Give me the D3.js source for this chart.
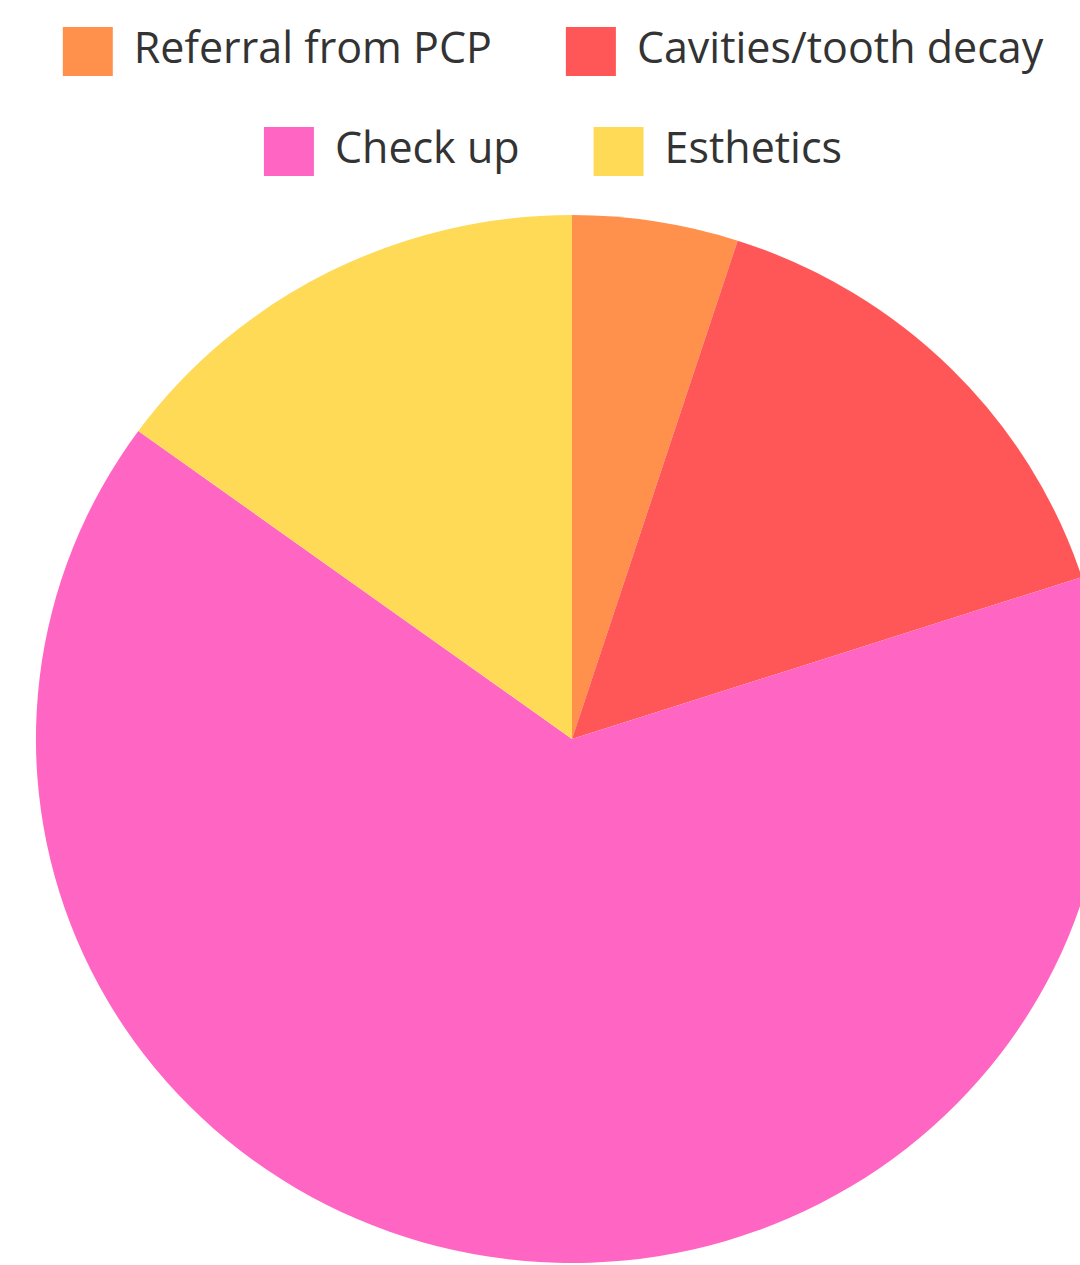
<!DOCTYPE html>
<html>
<head>
<meta charset="utf-8">
<script src="https://cdn.jsdelivr.net/npm/d3@7"></script>
<style>
  html, body { margin: 0; padding: 0; background: #ffffff; }
  svg { display: block; }
</style>
</head>
<body>
<script>
// Reasons for visit, share of patients (%)
const categories = ["Referral from PCP", "Cavities/tooth decay", "Check up", "Esthetics"];
const shares = [5, 15, 65, 15];
const colors = ["#FF914D", "#FF5757", "#FF66C4", "#FFDA57"];
// Legend rows: which categories go on each line
const legendRows = [[0, 1], [2, 3]];

const W = 1080, H = 1265;
const svg = d3.select("body").append("svg").attr("width", W).attr("height", H);

const data = categories.map((c, i) => ({ name: c, value: shares[i], color: colors[i] }));

// Pie
const radius = 524;
const cx = 572, cy = 739;
const pie = d3.pie().value(d => d.value).sort(null);
const arc = d3.arc().innerRadius(0).outerRadius(radius);

const g = svg.append("g").attr("transform", `translate(${cx},${cy}) scale(1.023,1)`);
g.selectAll("path")
  .data(pie(data))
  .join("path")
  .attr("d", arc)
  .attr("fill", d => d.data.color);

// Legend
const font = "'Open Sans', sans-serif";
const fontSize = 43;
const sw = 50, sh = 49, textGap = 21, itemGap = 74, legendCx = 553;
const rowY = [27, 127];

legendRows.forEach((row, r) => {
  const rowG = svg.append("g");
  let x = 0;
  row.forEach(i => {
    const item = rowG.append("g").attr("transform", `translate(${x},0)`);
    item.append("rect")
      .attr("x", 0).attr("y", rowY[r])
      .attr("width", sw).attr("height", sh)
      .attr("fill", colors[i]);
    const t = item.append("text")
      .attr("x", sw + textGap).attr("y", rowY[r] + 36)
      .attr("font-family", font).attr("font-size", fontSize)
      .attr("fill", "#333333")
      .text(categories[i]);
    x += sw + textGap + t.node().getComputedTextLength() + itemGap;
  });
  const total = x - itemGap;
  rowG.attr("transform", `translate(${legendCx - total / 2},0)`);
});
</script>
</body>
</html>
